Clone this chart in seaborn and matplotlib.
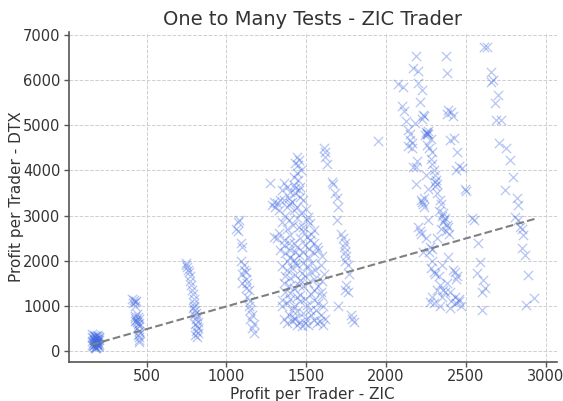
import numpy as np
import pandas as pd
import matplotlib
matplotlib.use("Agg")
import matplotlib.pyplot as plt
import seaborn as sns

# ---- data ----
c1_zic = [160,170,180,190,200,165,175,185,195,205,155,168,178,188,198,162,172,182,192,202,
          158,170,180,190,200,165,175,185,195,175,185,170,180,190,160,200,178,188,168,195]
c1_dtx = [380,350,330,360,300,280,300,260,250,280,220,240,230,210,200,180,190,170,160,150,
          140,130,150,120,110,100,90,80,100,60,70,250,200,180,300,230,320,260,120,340]

c2_zic = [410,420,430,415,425,435,440,430,445,450,435,440,445,450,455,440,450,460,445,455,430,425,450,455]
c2_dtx = [1150,1120,1080,1050,1000,1100,820,780,750,700,680,650,600,620,560,500,450,400,350,300,720,660,250,200]

c3_zic = [750,745,755,760,765,770,775,780,785,790,795,800,790,805,810,800,815,810,820,815,825,810,820,805,815,795,805]
c3_dtx = [1950,1900,1850,1800,1750,1650,1550,1450,1350,1250,1150,1050,950,900,850,800,780,700,650,550,500,450,400,350,300,1000,600]

c4_zic = [1080,1070,1060,1070,1090,1100,1090,1110,1110,1120,1120,1130,1120,1140,1130,1150,1140,1150,1160,1150,1170,1160,1170,1100,1095]
c4_dtx = [2900,2850,2700,2650,2400,2300,2000,1900,1800,1750,1600,1500,1400,1350,1200,1100,1000,900,800,700,600,500,400,1700,1500]

c5_zic = [1441,1452,1431,1446,1421,1441,1275,1358,1379,1348,1400,1421,1431,1452,1462,1296,1317,1337,1285,1306,
          1327,1358,1379,1400,1421,1441,1462,1483,1504,1525,1514,1483,1546,1452,1296,1317,1327,1358,1400,1421,
          1462,1504,1525,1546,1567,1337,1369,1400,1421,1452,1483,1514,1546,1577,1400,1431,1348,1379,1410,1441,
          1473,1504,1535,1556,1369,1400,1431,1462,1494,1358,1390,1421,1452,1483,1514,1546,1577,1400,1462,1348,
          1379,1421,1462,1504,1546,1577,1608,1598,1410,1441,1483,1525,1379,1410,1441,1473,1494,1514,1567,1587,
          1608,1421,1546,
          1380,1350,1370,1395,1420,1440,1465,1500,1530,1480,1360,1390,1440,1490,1520,1600,1590,1610,1600,1590,
          1380,1430,1480,1530,1550,1370,1400,1440,1490,1530,1560,1590,1620,1395,1430,1460,1500,1530,1350,1360,
          1470,1450,1430,1390,1410]
c5_dtx = [4306,4232,4159,4122,3863,3937,3716,3716,3642,3568,3531,3679,3605,3568,3642,3310,3273,3347,3236,3199,
          3125,3347,3199,3273,3125,3199,3421,3347,2904,2830,2978,2756,2683,2756,2535,2498,2609,2461,2572,2387,
          2498,2535,2461,2387,2314,2240,2166,2092,2018,2129,2203,2092,2166,2240,2240,2203,1871,1797,1834,1908,
          1723,1871,1945,1797,1649,1612,1686,1576,1649,1502,1428,1391,1465,1428,1502,1354,1428,1280,1243,1133,
          1059,985,1096,1022,1133,1059,985,1207,911,875,838,911,616,653,579,542,616,579,616,653,
          579,727,690,
          2700,2850,3000,2900,2800,2950,3050,3150,2600,2650,2350,2400,2300,2350,2250,2100,1900,1700,1550,1300,
          2000,1950,1950,1750,1600,1300,1150,1200,1150,1250,900,800,700,800,700,650,700,800,1000,700,
          4000,3800,3500,3400,3300]

c6_zic = [1610,1620,1615,1630,1660,1670,1680,1690,1700,1690,1720,1730,1740,1735,1740,1750,1745,1760,1770,1750,
          1740,1760,1700,1780,1790,1800]
c6_dtx = [4500,4400,4300,4150,3750,3700,3500,3400,3200,2900,2600,2500,2400,2300,2200,2100,2000,1900,1700,1450,
          1350,1300,1000,800,700,650]

c7_zic = [1950]
c7_dtx = [4650]

c8_zic = [2190,2375,2380,2170,2200,2075,2105,2200,2225,2210,2100,2115,2125,2135,2150,2165,2140,2160,2170,2190,
          2230,2240,2225,2250,2260,2255,2265,2245,2258,2256,2270,2280,2290,2300,2310,2315,2320,2305,2310,
          2225,2230,2220,2240,2340,2345,2360,2370,2365,2380,2390,2375,2395,2350,2355,
          2200,2210,2220,2265,2275,2285,2270,2390,2280,2300,2310,2330,2340,2360,2370,2350,2420,2430,2445,2440,
          2400,2430,2410,2440,2460,2455,2470,2275,2340,2425,2400,2390,2410,2420,2385,2445,2455,2475,2440,2495,
          2500,2540,2550,
          2250,2260,2240,2320,2330,2345,2320,2250,2230,2290,2350,2380,2320,2400,2290,2300,2190,2195,2150,2180,
          2280,2290]
c8_dtx = [6550,6550,6160,6270,6200,5910,5850,5940,5780,5520,5430,5330,5100,4900,4670,4600,4550,4500,4075,4080,
          5230,5200,5150,4850,4820,4800,4870,4780,4840,4560,4500,4250,4150,4000,3900,3800,3700,3750,3650,
          3300,3250,3350,3200,3340,3250,3050,2950,2900,2800,2750,2650,2600,3000,2850,
          2750,2650,2600,2900,2300,2250,2200,2080,1840,1750,1700,1650,1450,1350,1300,1200,1800,1750,1650,1600,
          1300,1200,1100,1050,1150,1100,1000,1085,1000,4720,4670,5340,5300,5200,5250,4400,4100,4050,4000,3600,
          3550,2950,2900,
          3900,3600,3400,3500,3100,2700,2500,2500,2200,2000,1900,1500,1350,950,1200,1050,3700,4200,4800,5050,
          4700,4400]

c9_zic = [2612,2630,2660,2670,2660,2700,2680,2690,2720,2710,2750,2775,2795,2745,2820,2825,2805,2825,2840,2850,
          2860,2850,2870,2890,2880,2930,2575,2590,2570,2605,2620,2600,2600]
c9_dtx = [6730,6740,6180,6000,5960,5670,5490,5120,5120,4600,4500,4230,3850,3570,3390,3230,2970,2900,2750,2700,
          2570,2280,2130,1680,1020,1170,2390,1970,1730,1570,1400,1310,910]

# trend line as drawn in the reference (slope, intercept)
trend_slope = 1.005
trend_intercept = -20.0

zic = c1_zic + c2_zic + c3_zic + c4_zic + c5_zic + c6_zic + c7_zic + c8_zic + c9_zic
dtx = c1_dtx + c2_dtx + c3_dtx + c4_dtx + c5_dtx + c6_dtx + c7_dtx + c8_dtx + c9_dtx
df = pd.DataFrame({"zic": zic, "dtx": dtx})

# ---- style ----
sns.set_style("whitegrid", {"grid.linestyle": "--", "grid.color": "#d0d0d0",
                            "axes.edgecolor": "#555555", "xtick.bottom": True, "ytick.left": True})
plt.rcParams['font.family'] = ['DejaVu Sans']

fig = plt.figure(figsize=(5.63, 4.01), dpi=100)
ax = fig.add_axes([0.122, 0.097, 0.867, 0.823])

sns.scatterplot(data=df, x="zic", y="dtx", marker="x", color="royalblue",
                alpha=0.38, s=45, linewidth=0.9, ax=ax, legend=False)

xs = np.array([df["zic"].min(), df["zic"].max()])
ax.plot(xs, trend_slope * xs + trend_intercept, linestyle="--", color="gray", linewidth=1.5)

ax.set_xlim(12, 3070)
ax.set_ylim(-250, 7070)
ax.set_xticks([500, 1000, 1500, 2000, 2500, 3000])
ax.set_yticks([0, 1000, 2000, 3000, 4000, 5000, 6000, 7000])
ax.grid(True, linestyle="--", linewidth=0.7, color="#cfcfcf")
for s in ["top", "right"]:
    ax.spines[s].set_visible(False)
for s in ["left", "bottom"]:
    ax.spines[s].set_linewidth(1.2)
    ax.spines[s].set_color("#555555")
ax.tick_params(axis="both", direction="out", length=3.5, width=1, colors="#555555",
               labelcolor="#333333", labelsize=10.5)
ax.tick_params(axis="x", pad=1.5)
ax.tick_params(axis="y", pad=2.5)

ax.set_title("One to Many Tests - ZIC Trader", fontsize=14, color="#333333", pad=5)
ax.set_xlabel("Profit per Trader - ZIC", fontsize=11, color="#333333", labelpad=2)
ax.set_ylabel("Profit per Trader - DTX", fontsize=11, color="#333333", labelpad=-1)

fig.savefig("out.png", dpi=100)
